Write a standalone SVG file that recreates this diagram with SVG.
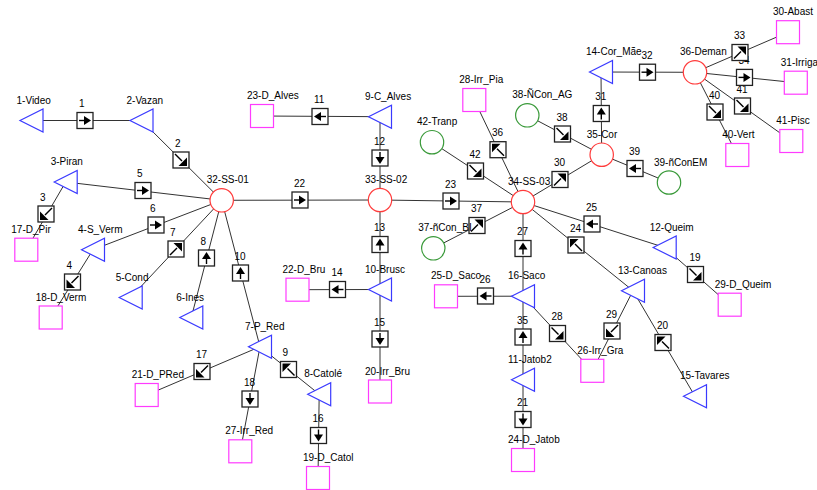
<svg xmlns="http://www.w3.org/2000/svg" xmlns:xlink="http://www.w3.org/1999/xlink" width="817" height="490" viewBox="0 0 817 490">
<style>
.t{font-family:"Liberation Sans",Arial,sans-serif;font-size:10px;fill:#000}
.ln{stroke:#333;stroke-width:1;fill:none}
.tr{fill:#fff;stroke:#3a3aff;stroke-width:1.2}
.rc{fill:#fff;stroke:#ff3b3b;stroke-width:1.2}
.gc{fill:#fff;stroke:#3a9a3a;stroke-width:1.2}
.sq{fill:#fff;stroke:#ff3bff;stroke-width:1.2}
.bx{fill:#fff;stroke:#222;stroke-width:1.3}
.ar line{stroke:#000;stroke-width:1.4}
.ar polygon{fill:#000;stroke:none}
</style>
<defs>
<path id="tri" d="M-11.5,0 L11.5,-11.5 L11.5,11.5 Z"/>
<circle id="cir" r="11.7"/>
<rect id="sqr" x="-11.5" y="-11.5" width="23" height="23"/>
<rect id="box" class="bx" x="-8" y="-8" width="16" height="16"/>
<g id="ah" class="ar"><line x1="-6" y1="0" x2="0" y2="0"/><polygon points="6,0 -1,-4.5 -1,4.5"/></g>
<g id="ad" class="ar"><line x1="-6" y1="-6" x2="1" y2="1"/><polygon points="6,6 6,-2.5 -2.5,6"/></g>
</defs>
<rect width="817" height="490" fill="#fff"/>
<g id="connectors">
<g id="lines" class="ln">
<line x1="31.5" y1="120.5" x2="141.5" y2="120.5"/>
<line x1="141.5" y1="120.5" x2="221.7" y2="200.3"/>
<line x1="65.7" y1="182" x2="26.3" y2="249.7"/>
<line x1="93" y1="249.7" x2="50.7" y2="317.5"/>
<line x1="65.7" y1="182" x2="221.7" y2="200.3"/>
<line x1="93" y1="249.7" x2="221.7" y2="200.3"/>
<line x1="130.7" y1="297.5" x2="221.7" y2="200.3"/>
<line x1="191.3" y1="317.5" x2="221.7" y2="200.3"/>
<line x1="260" y1="346.7" x2="221.7" y2="200.3"/>
<line x1="319.2" y1="394.2" x2="260" y2="346.7"/>
<line x1="260" y1="346.7" x2="146.7" y2="395"/>
<line x1="260" y1="346.7" x2="240.3" y2="451.3"/>
<line x1="319.2" y1="394.2" x2="318" y2="478"/>
<line x1="221.7" y1="200.3" x2="380" y2="200"/>
<line x1="380" y1="116.7" x2="262" y2="116"/>
<line x1="380" y1="116.7" x2="380" y2="200"/>
<line x1="380" y1="289.5" x2="380" y2="200"/>
<line x1="380" y1="289.5" x2="297.5" y2="289.7"/>
<line x1="380" y1="289.5" x2="380" y2="391.5"/>
<line x1="380" y1="200" x2="523" y2="202"/>
<line x1="523" y1="202" x2="474.3" y2="100"/>
<line x1="432" y1="142.2" x2="523" y2="202"/>
<line x1="433.3" y1="248.3" x2="523" y2="202"/>
<line x1="523" y1="202" x2="601.7" y2="154.7"/>
<line x1="527.3" y1="115.3" x2="601.7" y2="154.7"/>
<line x1="669" y1="182.5" x2="601.7" y2="154.7"/>
<line x1="601.7" y1="154.7" x2="601" y2="72"/>
<line x1="601" y1="72" x2="695" y2="72.3"/>
<line x1="695" y1="72.3" x2="788" y2="32.2"/>
<line x1="695" y1="72.3" x2="795.8" y2="82.7"/>
<line x1="695" y1="72.3" x2="737.3" y2="155"/>
<line x1="695" y1="72.3" x2="791.3" y2="141"/>
<line x1="664.7" y1="247.5" x2="523" y2="202"/>
<line x1="664.7" y1="247.5" x2="729.7" y2="304.7"/>
<line x1="633" y1="290.7" x2="523" y2="202"/>
<line x1="633" y1="290.7" x2="592.3" y2="370.8"/>
<line x1="695" y1="396.3" x2="633" y2="290.7"/>
<line x1="523" y1="296.2" x2="523" y2="202"/>
<line x1="523" y1="296.2" x2="446" y2="296.3"/>
<line x1="523" y1="296.2" x2="592.3" y2="370.8"/>
<line x1="523" y1="379.7" x2="523" y2="296.2"/>
<line x1="523" y1="379.7" x2="523" y2="460"/>
</g>
<g id="edge-labels" class="t">
<text x="79" y="107">1</text>
<text x="175" y="146.5">2</text>
<text x="40" y="200.5">3</text>
<text x="66.5" y="268.5">4</text>
<text x="137" y="177">5</text>
<text x="150" y="211.5">6</text>
<text x="170" y="235.5">7</text>
<text x="200.5" y="244.5">8</text>
<text x="282.5" y="356">9</text>
<text x="234.5" y="259.5">10</text>
<text x="314" y="103">11</text>
<text x="374" y="144.5">12</text>
<text x="374" y="231">13</text>
<text x="331.5" y="276">14</text>
<text x="374" y="325.5">15</text>
<text x="312.5" y="422">16</text>
<text x="196" y="358">17</text>
<text x="244" y="385.5">18</text>
<text x="689.5" y="261">19</text>
<text x="657" y="329">20</text>
<text x="517" y="406">21</text>
<text x="294" y="186.5">22</text>
<text x="445" y="187.5">23</text>
<text x="570" y="231.5">24</text>
<text x="586" y="210.5">25</text>
<text x="479.5" y="282.5">26</text>
<text x="517" y="235">27</text>
<text x="551.5" y="320">28</text>
<text x="606" y="317.5">29</text>
<text x="554" y="166">30</text>
<text x="595.3" y="100">31</text>
<text x="641.5" y="58.7">32</text>
<text x="734" y="39">33</text>
<text x="738.5" y="63.9">34</text>
<text x="517" y="323.5">35</text>
<text x="492" y="136.2">36</text>
<text x="471" y="212">37</text>
<text x="556.5" y="120.5">38</text>
<text x="629" y="155">39</text>
<text x="709" y="98.5">40</text>
<text x="736.5" y="92.5">41</text>
<text x="469.5" y="157.5">42</text>
</g>
<g id="boxes">
<g transform="translate(85,120.5)"><use href="#box"/><use href="#ah"/></g>
<g transform="translate(181,160)"><use href="#box"/><use href="#ad"/></g>
<g transform="translate(46,214)"><use href="#box"/><use href="#ad" transform="rotate(90)"/></g>
<g transform="translate(72.5,282)"><use href="#box"/><use href="#ad" transform="rotate(90)"/></g>
<g transform="translate(143,190.5)"><use href="#box"/><use href="#ah"/></g>
<g transform="translate(156,225)"><use href="#box"/><use href="#ah"/></g>
<g transform="translate(176,249)"><use href="#box"/><use href="#ad" transform="rotate(-90)"/></g>
<g transform="translate(206.5,258)"><use href="#box"/><use href="#ah" transform="rotate(-90)"/></g>
<g transform="translate(288.5,369.5)"><use href="#box"/><use href="#ad" transform="rotate(180)"/></g>
<g transform="translate(240.5,273)"><use href="#box"/><use href="#ah" transform="rotate(-90)"/></g>
<g transform="translate(320,116.5)"><use href="#box"/><use href="#ah" transform="rotate(180)"/></g>
<g transform="translate(380,158)"><use href="#box"/><use href="#ah" transform="rotate(90)"/></g>
<g transform="translate(380,244.5)"><use href="#box"/><use href="#ah" transform="rotate(-90)"/></g>
<g transform="translate(337.5,289.5)"><use href="#box"/><use href="#ah" transform="rotate(180)"/></g>
<g transform="translate(380,339)"><use href="#box"/><use href="#ah" transform="rotate(90)"/></g>
<g transform="translate(318.5,435.5)"><use href="#box"/><use href="#ah" transform="rotate(90)"/></g>
<g transform="translate(202,371.5)"><use href="#box"/><use href="#ad" transform="rotate(90)"/></g>
<g transform="translate(250,399)"><use href="#box"/><use href="#ah" transform="rotate(90)"/></g>
<g transform="translate(695.5,274.5)"><use href="#box"/><use href="#ad"/></g>
<g transform="translate(663,342.5)"><use href="#box"/><use href="#ad" transform="rotate(180)"/></g>
<g transform="translate(523,419.5)"><use href="#box"/><use href="#ah" transform="rotate(90)"/></g>
<g transform="translate(300,200)"><use href="#box"/><use href="#ah"/></g>
<g transform="translate(451,201)"><use href="#box"/><use href="#ah"/></g>
<g transform="translate(576,245)"><use href="#box"/><use href="#ad" transform="rotate(180)"/></g>
<g transform="translate(592,224)"><use href="#box"/><use href="#ah" transform="rotate(180)"/></g>
<g transform="translate(485.5,296)"><use href="#box"/><use href="#ah" transform="rotate(180)"/></g>
<g transform="translate(523,248.5)"><use href="#box"/><use href="#ah" transform="rotate(-90)"/></g>
<g transform="translate(557.5,333.5)"><use href="#box"/><use href="#ad"/></g>
<g transform="translate(612,331)"><use href="#box"/><use href="#ad" transform="rotate(90)"/></g>
<g transform="translate(560,179.5)"><use href="#box"/><use href="#ad" transform="rotate(-90)"/></g>
<g transform="translate(601.3,113.5)"><use href="#box"/><use href="#ah" transform="rotate(-90)"/></g>
<g transform="translate(647.5,72.2)"><use href="#box"/><use href="#ah"/></g>
<g transform="translate(744.5,77.4)"><use href="#box"/><use href="#ah"/></g>
<g transform="translate(740,52.5)"><use href="#box"/><use href="#ad" transform="rotate(-90)"/></g>
<g transform="translate(523,337)"><use href="#box"/><use href="#ah" transform="rotate(-90)"/></g>
<g transform="translate(498,149.7)"><use href="#box"/><use href="#ad" transform="rotate(180)"/></g>
<g transform="translate(477,225.5)"><use href="#box"/><use href="#ad" transform="rotate(-90)"/></g>
<g transform="translate(562.5,134)"><use href="#box"/><use href="#ad"/></g>
<g transform="translate(635,168.5)"><use href="#box"/><use href="#ah" transform="rotate(180)"/></g>
<g transform="translate(715,112)"><use href="#box"/><use href="#ad"/></g>
<g transform="translate(742.5,106)"><use href="#box"/><use href="#ad"/></g>
<g transform="translate(475.5,171)"><use href="#box"/><use href="#ad"/></g>
</g>
</g>
<g id="nodes">
<g id="n1"><use href="#tri" class="tr" x="31.5" y="120.5"/><text class="t" x="16.5" y="103.5">1-Video</text></g>
<g id="n2"><use href="#tri" class="tr" x="141.5" y="120.5"/><text class="t" x="126.5" y="103.5">2-Vazan</text></g>
<g id="n3"><use href="#tri" class="tr" x="65.7" y="182"/><text class="t" x="50.7" y="165">3-Piran</text></g>
<g id="n4"><use href="#tri" class="tr" x="93" y="249.7"/><text class="t" x="78" y="232.7">4-S_Verm</text></g>
<g id="n5"><use href="#tri" class="tr" x="130.7" y="297.5"/><text class="t" x="115.7" y="280.5">5-Cond</text></g>
<g id="n6"><use href="#tri" class="tr" x="191.3" y="317.5"/><text class="t" x="176.3" y="300.5">6-Ines</text></g>
<g id="n7"><use href="#tri" class="tr" x="260" y="346.7"/><text class="t" x="245" y="329.7">7-P_Red</text></g>
<g id="n8"><use href="#tri" class="tr" x="319.2" y="394.2"/><text class="t" x="304.2" y="377.2">8-Catolé</text></g>
<g id="n9"><use href="#tri" class="tr" x="380" y="116.7"/><text class="t" x="365" y="99.7">9-C_Alves</text></g>
<g id="n10"><use href="#tri" class="tr" x="380" y="289.5"/><text class="t" x="365" y="272.5">10-Brusc</text></g>
<g id="n11"><use href="#tri" class="tr" x="523" y="379.7"/><text class="t" x="508" y="362.7">11-Jatob2</text></g>
<g id="n12"><use href="#tri" class="tr" x="664.7" y="247.5"/><text class="t" x="649.7" y="230.5">12-Queim</text></g>
<g id="n13"><use href="#tri" class="tr" x="633" y="290.7"/><text class="t" x="618" y="273.7">13-Canoas</text></g>
<g id="n14"><use href="#tri" class="tr" x="601" y="72"/><text class="t" x="586" y="55">14-Cor_Mãe</text></g>
<g id="n15"><use href="#tri" class="tr" x="695" y="396.3"/><text class="t" x="680" y="379.3">15-Tavares</text></g>
<g id="n16"><use href="#tri" class="tr" x="523" y="296.2"/><text class="t" x="508" y="279.2">16-Saco</text></g>
<g id="n17"><use href="#sqr" class="sq" x="26.3" y="249.7"/><text class="t" x="11.3" y="232.7">17-D_Pir</text></g>
<g id="n18"><use href="#sqr" class="sq" x="50.7" y="317.5"/><text class="t" x="35.7" y="300.5">18-D_Verm</text></g>
<g id="n19"><use href="#sqr" class="sq" x="318" y="478"/><text class="t" x="303" y="461">19-D_Catol</text></g>
<g id="n20"><use href="#sqr" class="sq" x="380" y="391.5"/><text class="t" x="365" y="374.5">20-Irr_Bru</text></g>
<g id="n21"><use href="#sqr" class="sq" x="146.7" y="395"/><text class="t" x="131.7" y="378">21-D_PRed</text></g>
<g id="n22"><use href="#sqr" class="sq" x="297.5" y="289.7"/><text class="t" x="282.5" y="272.7">22-D_Bru</text></g>
<g id="n23"><use href="#sqr" class="sq" x="262" y="116"/><text class="t" x="247" y="99">23-D_Alves</text></g>
<g id="n24"><use href="#sqr" class="sq" x="523" y="460"/><text class="t" x="508" y="443">24-D_Jatob</text></g>
<g id="n25"><use href="#sqr" class="sq" x="446" y="296.3"/><text class="t" x="431" y="279.3">25-D_Saco</text></g>
<g id="n26"><use href="#sqr" class="sq" x="592.3" y="370.8"/><text class="t" x="577.3" y="353.8">26-Irr_Gra</text></g>
<g id="n27"><use href="#sqr" class="sq" x="240.3" y="451.3"/><text class="t" x="225.3" y="434.3">27-Irr_Red</text></g>
<g id="n28"><use href="#sqr" class="sq" x="474.3" y="100"/><text class="t" x="459.3" y="83">28-Irr_Pia</text></g>
<g id="n29"><use href="#sqr" class="sq" x="729.7" y="304.7"/><text class="t" x="714.7" y="287.7">29-D_Queim</text></g>
<g id="n30"><use href="#sqr" class="sq" x="788" y="32.2"/><text class="t" x="773" y="15.2">30-Abast</text></g>
<g id="n31"><use href="#sqr" class="sq" x="795.8" y="82.7"/><text class="t" x="780.8" y="65.7">31-Irriga</text></g>
<g id="n32"><use href="#cir" class="rc" x="221.7" y="200.3"/><text class="t" x="206.7" y="183.3">32-SS-01</text></g>
<g id="n33"><use href="#cir" class="rc" x="380" y="200"/><text class="t" x="365" y="183">33-SS-02</text></g>
<g id="n34"><use href="#cir" class="rc" x="523" y="202"/><text class="t" x="508" y="185">34-SS-03</text></g>
<g id="n35"><use href="#cir" class="rc" x="601.7" y="154.7"/><text class="t" x="586.7" y="137.7">35-Cor</text></g>
<g id="n36"><use href="#cir" class="rc" x="695" y="72.3"/><text class="t" x="680" y="55.3">36-Deman</text></g>
<g id="n37"><use href="#cir" class="gc" x="433.3" y="248.3"/><text class="t" x="418.3" y="231.3">37-ñCon_BI</text></g>
<g id="n38"><use href="#cir" class="gc" x="527.3" y="115.3"/><text class="t" x="512.3" y="98.3">38-ÑCon_AG</text></g>
<g id="n39"><use href="#cir" class="gc" x="669" y="182.5"/><text class="t" x="654" y="165.5">39-ñConEM</text></g>
<g id="n40"><use href="#sqr" class="sq" x="737.3" y="155"/><text class="t" x="722.3" y="138">40-Vert</text></g>
<g id="n41"><use href="#sqr" class="sq" x="791.3" y="141"/><text class="t" x="776.3" y="124">41-Pisc</text></g>
<g id="n42"><use href="#cir" class="gc" x="432" y="142.2"/><text class="t" x="417" y="125.2">42-Tranp</text></g>
</g>
</svg>
